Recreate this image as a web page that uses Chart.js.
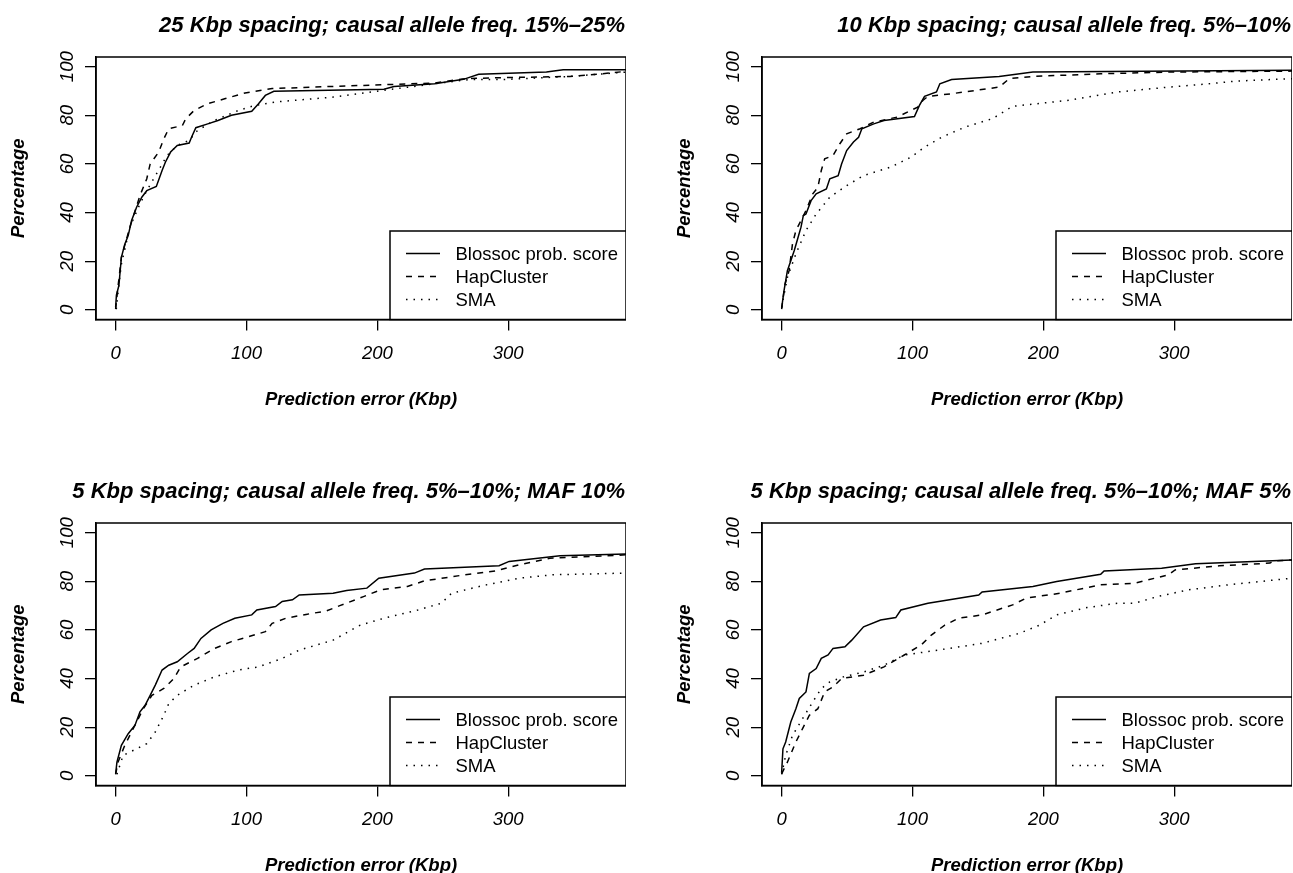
<!DOCTYPE html>
<html>
<head>
<meta charset="utf-8">
<script src="https://cdn.jsdelivr.net/npm/chart.js@4.4.1/dist/chart.umd.min.js"></script>
<style>
  body { margin: 0; background: #fff; }
  #wrap { position: relative; width: 1293px; height: 873px; overflow: hidden; }
  .panel { position: absolute; }
</style>
</head>
<body>
<div id="wrap">
  <canvas id="c1" class="panel" width="626" height="420" style="left:0;top:0"></canvas>
  <canvas id="c2" class="panel" width="626" height="420" style="left:666px;top:0"></canvas>
  <canvas id="c3" class="panel" width="626" height="420" style="left:0;top:466px"></canvas>
  <canvas id="c4" class="panel" width="626" height="420" style="left:666px;top:466px"></canvas>
</div>
<script>
// panel titles and series names
const panelTitles = [
  '25 Kbp spacing; causal allele freq. 15%\u201325%',
  '10 Kbp spacing; causal allele freq. 5%\u201310%',
  '5 Kbp spacing; causal allele freq. 5%\u201310%; MAF 10%',
  '5 Kbp spacing; causal allele freq. 5%\u201310%; MAF 5%'
];
const seriesNames = ['Blossoc prob. score', 'HapCluster', 'SMA'];
const xTicks = [0, 100, 200, 300];
const yTicks = [0, 20, 40, 60, 80, 100];

// [prediction error (Kbp), percentage]
const p1Blossoc = [[0,1],[0.6,6],[2.5,10],[4.4,21.6],[7,27],[9.6,30.5],[12.2,36.7],[16,42.2],[20,46.3],[23.8,49],[31.1,50.7],[35.5,57.3],[38,60.7],[42,64.9],[47.1,67.6],[56.2,68.6],[58,71],[61.3,74.9],[70.4,76.5],[78.2,77.9],[88.5,80],[104,81.7],[109.2,84.8],[114.4,88.2],[120.9,89.9],[205,90.7],[212.7,91.9],[243.8,93],[265.8,94.8],[277.4,96.9],[329.2,97.8],[342,98.8],[390,98.8]];
const p1Hap = [[0,0.3],[1.5,8],[4.4,21.6],[10.9,34],[18.6,47],[23.8,53.9],[26.4,60],[32.9,64.9],[36.8,70.3],[40.6,74.5],[51,75.8],[53.6,78.6],[60,82],[70.4,84.8],[83.3,86.8],[98.9,89.2],[119.6,91],[166,91.9],[205,92.6],[243.8,93.3],[267,95.1],[295.6,95.5],[347,96],[370,97],[390,98.1]];
const p1Sma = [[0.5,0.3],[2,8],[4.4,18.8],[10.9,34],[18.6,43.6],[23.8,49],[29,53.9],[34.2,58.7],[39.3,63.5],[47.1,67.6],[56.2,69.7],[62.6,73.8],[75.6,77.9],[93.7,82],[106.6,84.1],[122.2,85.5],[166,87.5],[205,90.3],[243.8,93],[269.7,94.7],[295.6,94.7],[347,96],[390,97.8]];

const p2Blossoc = [[0,0.7],[1.8,7.8],[4.4,16.1],[9.6,24.3],[12.2,29.1],[14.8,34],[16.6,38.8],[18.6,39.4],[22.5,44.9],[26.4,47.7],[34.2,49.7],[36.8,53.9],[43.2,55.2],[45.8,60],[49.7,65.5],[54.9,69],[58.8,71],[61.3,74.5],[70.4,76.5],[78.2,77.9],[101.5,79.5],[105.3,84.1],[109.2,87.8],[118.3,89.6],[120.9,93],[129.9,94.7],[166.2,96],[192,97.8],[390,98.5]];
const p2Hap = [[0,0.3],[2.6,10.6],[5.7,16.1],[8.3,27.1],[10.9,32.6],[14.8,36.7],[18.6,40.8],[23.8,47.7],[27.7,50.4],[30.3,57.3],[32.9,62.1],[39.3,63.5],[44.5,68.3],[49.7,72.4],[60,74.5],[70.4,77.2],[88.5,79.3],[104,83.4],[107.9,86.1],[111.8,87.8],[130,88.9],[166.2,91.6],[174,95.1],[192,96],[243.8,97.1],[295.6,97.8],[390,98.2]];
const p2Sma = [[0,1],[4.4,13.3],[10.9,23],[18.6,32.6],[26.4,39.4],[36.8,46.3],[49.7,51.1],[62.6,55.2],[83.3,58.7],[98.9,62.8],[109.2,66.9],[122.2,71],[140.3,75.2],[161,78.6],[176.5,83.7],[217.9,86.1],[256.7,89.6],[295.6,91.6],[326.6,93],[347.3,94.1],[390,95.1]];

const p3Blossoc = [[0,0.8],[1,5.6],[4.4,12.5],[9.6,17.3],[14.8,20.8],[18.6,26.3],[22.5,29],[26.4,33.1],[30.3,37.3],[35.5,43.5],[40.6,45.5],[47.1,46.9],[54.9,50.3],[60,52.4],[65.2,56.5],[73,60],[82,62.7],[91.1,64.8],[104,66.2],[107.9,68.2],[122.2,69.6],[127.3,71.7],[135.1,72.4],[140.3,74.4],[166.2,75.1],[176.5,76.2],[192,77.2],[201.1,81.3],[228.3,83.4],[236,85.1],[293,86.4],[300.7,88.2],[339.6,90.5],[390,91.2]];
const p3Hap = [[0,0.6],[1.8,5.6],[7,12.5],[9.6,15.3],[16,22.1],[21.2,27.6],[27.7,33.1],[36.8,35.9],[44.5,40],[49.7,44.8],[62.6,48.3],[75.6,52.4],[88.5,55.2],[101.5,57.2],[114.4,59.3],[119.6,62.7],[130,64.8],[145.5,66.4],[161,67.8],[171.3,70],[189.4,73.7],[202.4,76.5],[223,77.9],[236,80.2],[267,82.7],[290.4,84.3],[308.5,86.8],[331.8,89.5],[390,90.9]];
const p3Sma = [[1,0.6],[5.7,8.4],[16,11.1],[23.8,13.2],[30.3,18],[36.8,24.9],[40.6,29.7],[47.1,33.1],[60,37.3],[75.6,40.7],[93.7,43.5],[109.2,44.8],[127.3,48.3],[140.3,51.7],[166.2,55.8],[186.9,62],[205,64.8],[230.9,68.2],[249,71],[256.7,75.1],[282.6,78.5],[308.5,81.3],[334.4,82.7],[390,83.4]];

const p4Blossoc = [[0,1.2],[1,11.1],[3.1,13.9],[7,22.1],[10.9,27.6],[13.5,31.8],[18.6,34.5],[21.2,42.1],[26.4,44.1],[30.3,48.3],[35.5,49.7],[39.3,52.4],[48.4,53.1],[53.6,55.8],[62.6,61.3],[75.6,64.1],[87.2,65.1],[91.1,68.2],[111.8,71],[150.6,74.4],[153.2,75.6],[192,77.9],[210.2,79.9],[243.8,82.9],[246.4,84.3],[290.4,85.4],[316.3,87.2],[390,88.8]];
const p4Hap = [[0,0.8],[4.4,5.6],[10.9,13.9],[16,19.4],[21.2,24.9],[27.7,27.6],[32.9,34.5],[39.3,36.6],[45.8,40],[62.6,41.4],[78.2,44.8],[93.7,49.7],[106.6,53.8],[114.4,57.9],[124.7,62],[135.1,64.8],[153.2,66.2],[176.5,70.3],[186.9,73.1],[212.7,75.1],[243.8,78.6],[269.7,79.2],[295.6,82.7],[300.7,84.7],[334.4,86.4],[373.2,87.5],[375.8,88.4],[390,88.8]];
const p4Sma = [[0,0.6],[3.1,8.4],[8.3,16.6],[16,23.5],[23.8,30.4],[30.3,35.9],[36.8,38.6],[47.1,40.7],[62.6,42.7],[78.2,45.5],[93.7,49.7],[119.6,51.7],[153.2,54.5],[181.7,58.6],[197.2,62],[210.2,66.2],[233.4,69.2],[256.7,71],[269.7,71],[287.8,73.8],[311,76.5],[342,78.6],[390,81.3]];

const FONT = "'Liberation Sans', Arial, Helvetica, sans-serif";
const dashes = [[], [6, 6], [1.5, 6]];

// titles, rotated y labels, box and legend (R-style)
const panelText = {
  id: 'panelText',
  afterDatasetsDraw(chart, args, opts) {
    const ctx = chart.ctx, a = chart.chartArea;
    ctx.save();
    ctx.strokeStyle = '#000';
    ctx.lineWidth = 1.5;
    ctx.strokeRect(a.left, a.top, a.right - a.left, a.bottom - a.top);

    // legend, bottom right
    const w = 236, h = 88.5;
    const lx = a.right - w, ly = a.bottom - h;
    ctx.fillStyle = '#fff';
    ctx.fillRect(lx, ly, w, h);
    ctx.strokeRect(lx, ly, w, h);
    ctx.font = '18.5px ' + FONT;
    ctx.textBaseline = 'middle';
    ctx.textAlign = 'left';
    chart.data.datasets.forEach((ds, i) => {
      const ry = ly + 22.5 + i * 23;
      ctx.setLineDash(ds.borderDash);
      ctx.beginPath();
      ctx.moveTo(lx + 16, ry);
      ctx.lineTo(lx + 50, ry);
      ctx.stroke();
      ctx.setLineDash([]);
      ctx.fillStyle = '#000';
      ctx.fillText(ds.label, lx + 65.5, ry + 1);
    });
    ctx.restore();
  },
  afterDraw(chart, args, opts) {
    const ctx = chart.ctx, a = chart.chartArea, ys = chart.scales.y;
    ctx.save();
    ctx.fillStyle = '#000';

    ctx.font = 'italic bold 22px ' + FONT;
    ctx.textAlign = 'right';
    ctx.textBaseline = 'alphabetic';
    ctx.fillText(opts.title, a.right - 1, 31.5);

    ctx.font = 'italic bold 18.5px ' + FONT;
    ctx.textAlign = 'center';
    ctx.fillText('Prediction error (Kbp)', (a.left + a.right) / 2, 405);

    ctx.save();
    ctx.translate(24, (a.top + a.bottom) / 2);
    ctx.rotate(-Math.PI / 2);
    ctx.fillText('Percentage', 0, 0);
    ctx.restore();

    ctx.font = 'italic 18.5px ' + FONT;
    yTicks.forEach(v => {
      ctx.save();
      ctx.translate(72.5, ys.getPixelForValue(v));
      ctx.rotate(-Math.PI / 2);
      ctx.fillText(String(v), 0, 0);
      ctx.restore();
    });
    ctx.restore();
  }
};

function makePanel(id, title, series) {
  const ctx = document.getElementById(id).getContext('2d');
  return new Chart(ctx, {
    type: 'line',
    data: {
      datasets: series.map((pts, i) => ({
        label: seriesNames[i],
        data: pts.map(p => ({ x: p[0], y: p[1] })),
        borderColor: '#000',
        borderWidth: 1.5,
        borderDash: dashes[i],
        pointRadius: 0,
        tension: 0,
        fill: false
      }))
    },
    options: {
      responsive: false,
      animation: false,
      events: [],
      layout: { padding: { top: 57, left: 0, right: 0, bottom: 0 } },
      plugins: {
        legend: { display: false },
        tooltip: { enabled: false },
        panelText: { title: title }
      },
      scales: {
        x: {
          type: 'linear', min: -15, max: 390,
          afterBuildTicks: s => { s.ticks = xTicks.map(v => ({ value: v })); },
          afterFit: s => { s.height = 100.5; },
          grid: { drawOnChartArea: false, tickLength: 11, color: '#000', lineWidth: 1.3 },
          border: { color: '#000', width: 1.5 },
          ticks: {
            color: '#000', padding: 12, maxRotation: 0, autoSkip: false,
            font: { family: FONT, size: 18.5, style: 'italic' },
            callback: v => String(v)
          }
        },
        y: {
          type: 'linear', min: -4, max: 104,
          afterBuildTicks: s => { s.ticks = yTicks.map(v => ({ value: v })); },
          afterFit: s => { s.width = 96; },
          grid: { drawOnChartArea: false, tickLength: 11, color: '#000', lineWidth: 1.3 },
          border: { color: '#000', width: 1.5 },
          ticks: { display: false }
        }
      }
    },
    plugins: [panelText]
  });
}

document.addEventListener('DOMContentLoaded', function() {
  makePanel('c1', panelTitles[0], [p1Blossoc, p1Hap, p1Sma]);
  makePanel('c2', panelTitles[1], [p2Blossoc, p2Hap, p2Sma]);
  makePanel('c3', panelTitles[2], [p3Blossoc, p3Hap, p3Sma]);
  makePanel('c4', panelTitles[3], [p4Blossoc, p4Hap, p4Sma]);
});
</script>
</body>
</html>
